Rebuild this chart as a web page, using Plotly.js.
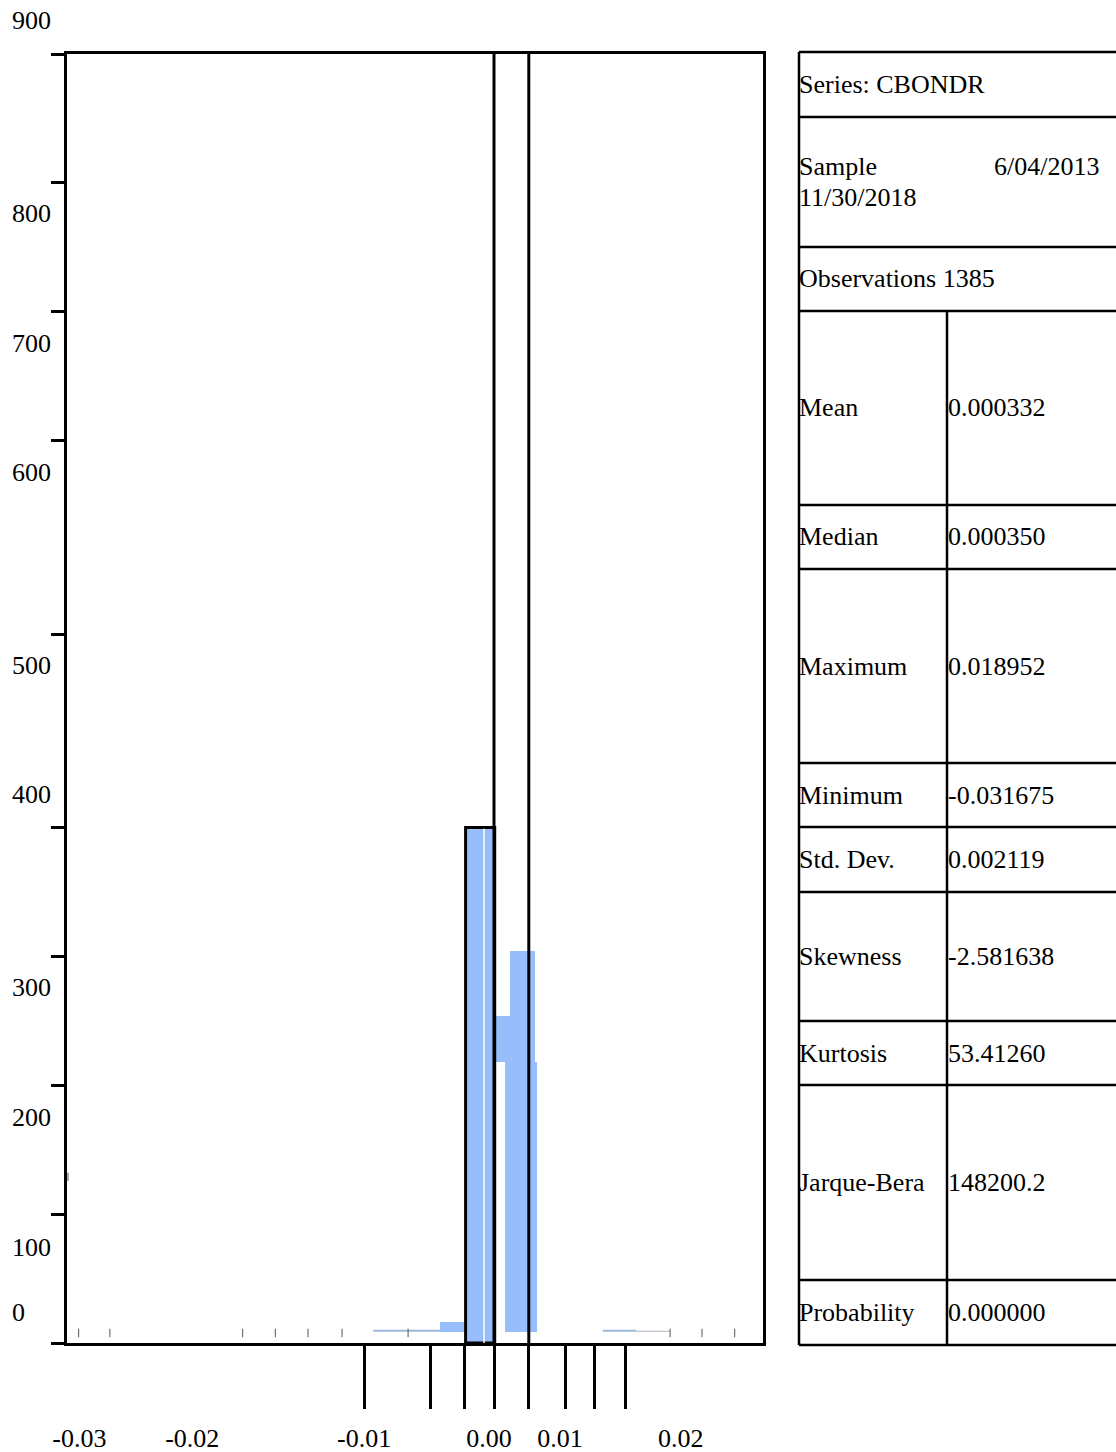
<!DOCTYPE html>
<html>
<head>
<meta charset="utf-8">
<script src="https://cdn.plot.ly/plotly-3.0.1.min.js"></script>
<style>html,body{margin:0;padding:0;background:#fff;}#chart{width:1116px;height:1452px;}</style>
</head>
<body>
<div id="chart"></div>
<script>
// ---------------- data ----------------
// histogram blocks: left edge, right edge, base count, top count
const barLo   = [-0.0076, 0.0000, 0.0023, 0.0016];
const barHi   = [-0.0042, 0.0023, 0.0058, 0.0061];
const barBase = [8, 196, 196, 8];
const barTop  = [15, 228, 274, 196];
// the tallest (outlined) bin
const peakLo  = [-0.0040];
const peakHi  = [0.0001];
const peakTop = [360];
// thin near-zero bins
const thinLeftX  = [-0.0170, -0.0076];
const thinLeftY  = [8.5, 8.5];
const thinRightX = [0.0153, 0.0200];
const thinRightY = [8.5, 8.5];
const thinTailX  = [0.0200, 0.0248];
const thinTailY  = [8.2, 8.2];
// tiny stray marks along the base
const markX = [-0.0585, -0.0541, -0.0354, -0.0308, -0.0262, -0.0214, -0.0121, 0.0248, 0.0293, 0.0339, 0.0383, -0.0600];
const markY = [7, 7, 7, 7, 7, 7, 7, 7, 7, 7, 7, 116];
// vertical guide lines through the plot
const guideX = [0.0000, 0.0049];
// axis ticks and labels
const xTickVals  = [-0.0183, -0.0090, -0.0041, 0.0000, 0.0049, 0.0100, 0.0141, 0.0185];
const xLabels    = ['-0.03', '-0.02', '-0.01', '0.00', '0.01', '0.02'];
const xLabelVals = [-0.0584, -0.0425, -0.0183, -0.0007, 0.0093, 0.0263];
const yTickVals  = [0, 90, 180, 270, 360, 495, 630, 720, 810, 900];
const yLabels    = ['900', '800', '700', '600', '500', '400', '300', '200', '100', '0'];
const yLabelVals = [923.7, 788.3, 698.2, 607.5, 472.7, 383.3, 247.9, 157.1, 67, 21.6];
// statistics table
const seriesName   = 'Series: CBONDR';
const sampleStart  = '6/04/2013';
const sampleEnd    = '11/30/2018';
const observations = 'Observations 1385';
const statLabels = ['Mean', 'Median', 'Maximum', 'Minimum', 'Std. Dev.', 'Skewness', 'Kurtosis', 'Jarque-Bera', 'Probability'];
const statValues = ['0.000332', '0.000350', '0.018952', '-0.031675', '0.002119', '-2.581638', '53.41260', '148200.2', '0.000000'];

// ---------------- layout geometry (pixels) ----------------
const W = 1116, H = 1452;
const rowEdges = [52, 117, 247, 311, 505, 569, 763, 827, 892, 1021, 1085, 1280, 1345];
const tableLeft = 799, colSplit = 947;
const px = v => v / W;
const py = v => 1 - v / H;
const FONT = 'Liberation Serif, Times New Roman, serif';
const BLUE = 'rgb(151,190,250)';
const yDom = [py(1343), py(54)];
const yMax = 900;
const yPaper = v => yDom[0] + v / yMax * (yDom[1] - yDom[0]);

const mid = (a, b) => a.map((v, i) => (v + b[i]) / 2);
const wid = (a, b) => a.map((v, i) => b[i] - v);

const traces = [
  { type: 'bar', x: mid(barLo, barHi), width: wid(barLo, barHi), base: barBase, y: wid(barBase, barTop),
    marker: { color: BLUE, line: { width: 0 } }, xaxis: 'x', yaxis: 'y' },
  { type: 'bar', x: mid(peakLo, peakHi), width: wid(peakLo, peakHi), base: [0], y: peakTop,
    marker: { color: BLUE, line: { width: 3, color: '#000' } }, xaxis: 'x', yaxis: 'y' },
  { type: 'scatter', mode: 'lines', x: [-0.0014, -0.0014], y: [0, peakTop[0] - 1], line: { color: '#fff', width: 1.5 }, xaxis: 'x', yaxis: 'y' },
  { type: 'scatter', mode: 'lines', x: thinLeftX, y: thinLeftY, line: { color: '#9db8d8', width: 2 }, xaxis: 'x', yaxis: 'y' },
  { type: 'scatter', mode: 'lines', x: thinRightX, y: thinRightY, line: { color: '#9db8d8', width: 2 }, xaxis: 'x', yaxis: 'y' },
  { type: 'scatter', mode: 'lines', x: thinTailX, y: thinTailY, line: { color: '#a9b3bf', width: 1 }, xaxis: 'x', yaxis: 'y' },
  { type: 'scatter', mode: 'markers', x: markX, y: markY, cliponaxis: false,
    marker: { symbol: 'line-ns-open', size: 6, color: '#555', line: { color: '#555', width: 1 } }, xaxis: 'x2', yaxis: 'y' }
];

const xRange = [(67 - 494) / 7100, (763 - 494) / 7100];

const shapes = [];
guideX.forEach(g => shapes.push({ type: 'line', xref: 'x', yref: 'y', x0: g, x1: g, y0: 0, y1: yMax, line: { color: '#000', width: 3 } }));
// table grid
rowEdges.forEach(r => shapes.push({ type: 'line', xref: 'paper', yref: 'paper', x0: px(tableLeft), x1: 1.01, y0: py(r), y1: py(r), line: { color: '#000', width: 2.5 } }));
shapes.push({ type: 'line', xref: 'paper', yref: 'paper', x0: px(tableLeft), x1: px(tableLeft), y0: py(rowEdges[0]), y1: py(rowEdges[rowEdges.length - 1]), line: { color: '#000', width: 2.5 } });
shapes.push({ type: 'line', xref: 'paper', yref: 'paper', x0: px(colSplit), x1: px(colSplit), y0: py(rowEdges[3]), y1: py(rowEdges[rowEdges.length - 1]), line: { color: '#000', width: 2.5 } });

const ann = [];
const txt = (text, xPix, yPix) => ann.push({ text, xref: 'paper', yref: 'paper', x: px(xPix), y: py(yPix), xanchor: 'left', yanchor: 'middle', showarrow: false, font: { family: FONT, size: 26, color: '#000' } });
yLabels.forEach((t, i) => ann.push({ text: t, xref: 'paper', yref: 'paper', x: px(10), y: yPaper(yLabelVals[i]), xanchor: 'left', yanchor: 'middle', showarrow: false, font: { family: FONT, size: 26, color: '#000' } }));
const rc = i => (rowEdges[i] + rowEdges[i + 1]) / 2;
txt(seriesName, 797, rc(0));
txt('Sample', 797, rc(1) - 15);
txt(sampleStart, 992, rc(1) - 15);
txt(sampleEnd, 797, rc(1) + 15);
txt(observations, 797, rc(2));
statLabels.forEach((l, i) => { txt(l, 797, rc(i + 3)); txt(statValues[i], 946, rc(i + 3)); });

const layout = {
  width: W, height: H, margin: { l: 0, r: 0, t: 0, b: 0 },
  paper_bgcolor: '#fff', plot_bgcolor: '#fff', showlegend: false, barmode: 'overlay', bargap: 0,
  font: { family: FONT, size: 26, color: '#000' },
  xaxis: { domain: [px(67), px(763)], range: xRange, showline: true, mirror: true, linewidth: 3, linecolor: '#000',
    ticks: 'outside', ticklen: 63, tickwidth: 3, tickcolor: '#000', tickmode: 'array', tickvals: xTickVals,
    showticklabels: false, showgrid: false, zeroline: false, fixedrange: true },
  xaxis2: { overlaying: 'x', anchor: 'free', position: 0.022, range: xRange, showline: false, ticks: '',
    tickmode: 'array', tickvals: xLabelVals, ticktext: xLabels, tickfont: { family: FONT, size: 26, color: '#000' },
    showgrid: false, zeroline: false, fixedrange: true },
  yaxis: { domain: yDom, range: [0, yMax], showline: true, mirror: true, linewidth: 3, linecolor: '#000',
    ticks: 'outside', ticklen: 13, tickwidth: 3, tickcolor: '#000', tickmode: 'array', tickvals: yTickVals,
    showticklabels: false, showgrid: false, zeroline: false, fixedrange: true },
  shapes, annotations: ann
};

Plotly.newPlot('chart', traces, layout, { staticPlot: true, displayModeBar: false });
</script>
</body>
</html>
